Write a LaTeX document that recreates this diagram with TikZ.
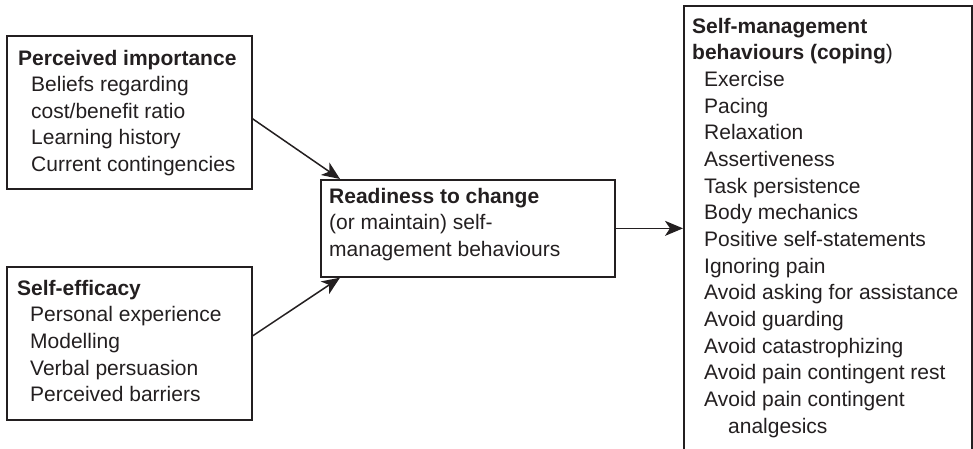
\documentclass[tikz,border=0pt]{standalone}
\usepackage{fontspec}
\setmainfont{Liberation Sans}
\usetikzlibrary{arrows.meta}
\definecolor{ink}{RGB}{35,31,32}
\begin{document}
\begin{tikzpicture}[x=1pt,y=-1pt,
  box/.style={draw=ink, line width=1.7pt, rectangle, inner sep=0pt, anchor=north west},
  txt/.style={anchor=base west, inner sep=0pt, text=ink, font=\fontsize{21}{25}\selectfont},
  conn/.style={draw=ink, line width=1.5pt, -{Stealth[length=18pt,width=15pt,inset=5pt]}}]
\useasboundingbox (0,0) rectangle (973,448);

% boxes
\node[box, minimum width=245pt, minimum height=153pt] (pibox) at (6,35) {};
\node[box, minimum width=245pt, minimum height=153pt] (sebox) at (6,266) {};
\node[box, minimum width=294pt, minimum height=97pt] (rdbox) at (320,179) {};
\node[box, minimum width=288pt, minimum height=470pt] (smbox) at (683,5) {};

% perceived importance
\node[txt] (pihead) at (18,65) {\textbf{Perceived importance}};
\foreach \t [count=\i] in {Beliefs regarding, cost/benefit ratio, Learning history, Current contingencies}
  \node[txt] (pi\i) at (31,{65+26.5*\i}) {\t};

% self-efficacy
\node[txt] (sehead) at (17,295) {\textbf{Self-efficacy}};
\foreach \t [count=\i] in {Personal experience, Modelling, Verbal persuasion, Perceived barriers}
  \node[txt] (se\i) at (30,{295+26.67*\i}) {\t};

% readiness
\node[txt] (rdhead) at (329,203) {\textbf{Readiness to change}};
\node[txt] (rd1) at (329,229.7) {(or maintain) self-};
\node[txt] (rd2) at (329,256.3) {management behaviours};

% self-management behaviours
\node[txt] (smhead1) at (692,33) {\textbf{Self-management}};
\node[txt] (smhead2) at (692,59.7) {\textbf{behaviours (coping})};
\foreach \t [count=\i] in {Exercise, Pacing, Relaxation, Assertiveness, Task persistence,
    Body mechanics, Positive self-statements, Ignoring pain, Avoid asking for assistance,
    Avoid guarding, Avoid catastrophizing, Avoid pain contingent rest, Avoid pain contingent}
  \node[txt] (sm\i) at (704,{59.7+26.67*\i}) {\t};
\node[txt] (sm14) at (728,433) {analgesics};

% connectors
\draw[conn] ([yshift=-6.5pt]pibox.east) -- ([xshift=20pt]rdbox.north west);
\draw[conn] ([yshift=7.5pt]sebox.east) -- ([xshift=20pt]rdbox.south west);
\draw[conn] (rdbox.east) -- (rdbox.east -| smbox.west);
\end{tikzpicture}
\end{document}
